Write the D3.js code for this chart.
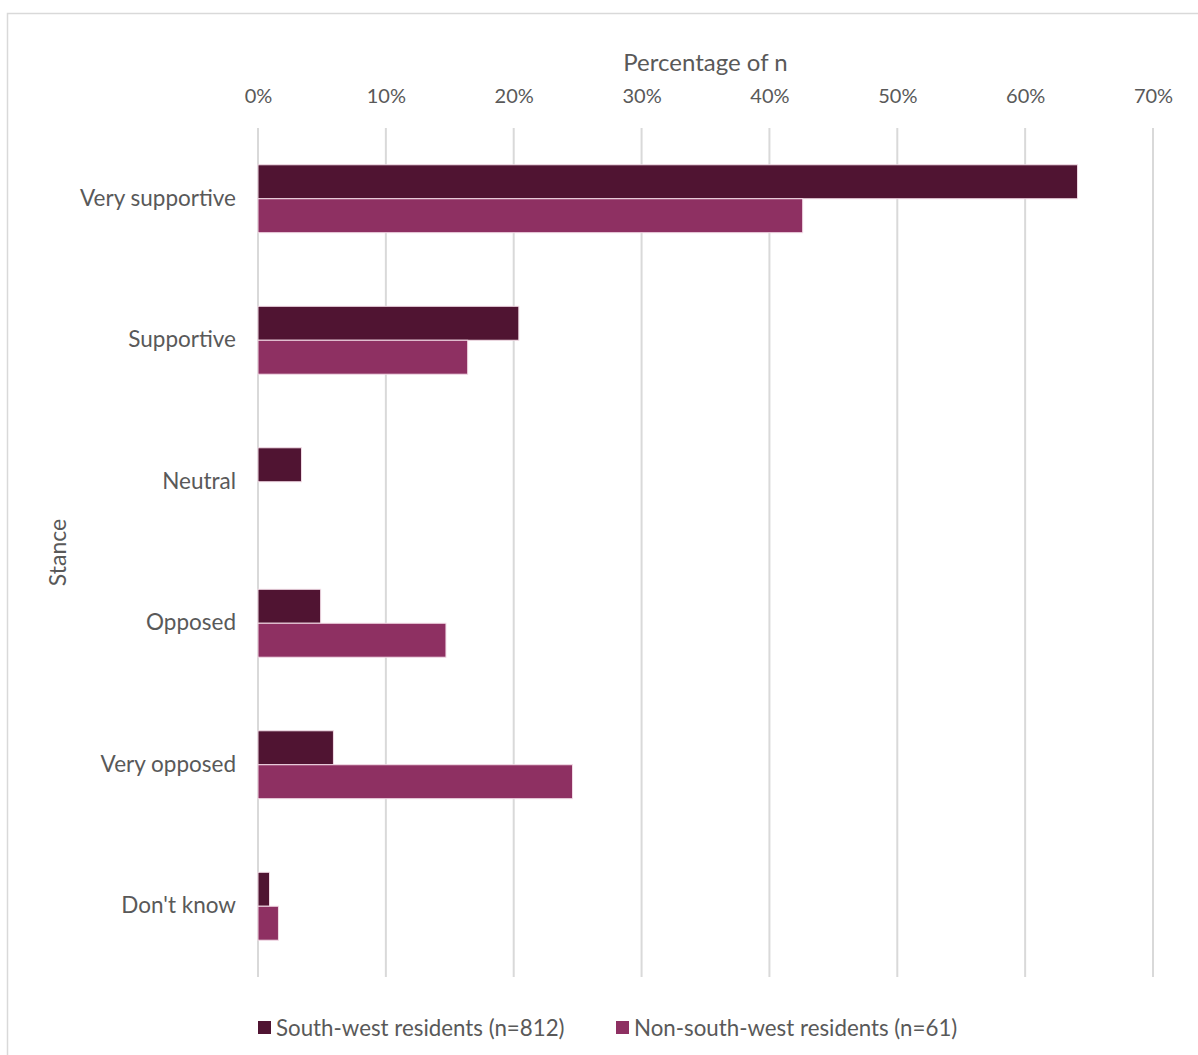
<!DOCTYPE html>
<html>
<head>
<meta charset="utf-8">
<script src="https://cdn.jsdelivr.net/npm/d3@7"></script>
<style>
  html, body { margin: 0; padding: 0; background: #fff; }
  svg { display: block; }
  text { font-family: Lato, "Open Sans", sans-serif; fill: #595959; }
</style>
</head>
<body>
<svg id="chart" width="1198" height="1055"></svg>
<script>
const categories = ["Very supportive", "Supportive", "Neutral", "Opposed", "Very opposed", "Don't know"];
const seriesNames = ["South-west residents (n=812)", "Non-south-west residents (n=61)"];
const southWest = [0.641, 0.204, 0.034, 0.049, 0.059, 0.009];
const nonSouthWest = [0.426, 0.164, 0.0, 0.147, 0.246, 0.016];
const tickValues = [0, 0.1, 0.2, 0.3, 0.4, 0.5, 0.6, 0.7];
const colors = ["#501432", "#8e3062"];

const svg = d3.select("#chart");
const W = 1198, H = 1055;
const plotTop = 128, plotBottom = 977;

// outer frame
svg.append("rect").attr("x", 7.5).attr("y", 13.5)
  .attr("width", W).attr("height", H)
  .attr("fill", "none").attr("stroke", "#d9d9d9").attr("stroke-width", 1.5);

const x = d3.scaleLinear().domain([0, 0.7]).range([258, 1153]);
const y = d3.scaleBand().domain(categories).range([plotTop, plotBottom]).paddingInner(0.52).paddingOuter(0.26);
const y1 = d3.scaleBand().domain([0, 1]).range([0, y.bandwidth()]);

// gridlines
svg.append("g").selectAll("line").data(tickValues).join("line")
  .attr("x1", d => x(d)).attr("x2", d => x(d))
  .attr("y1", plotTop).attr("y2", plotBottom)
  .attr("stroke", "#d9d9d9").attr("stroke-width", 2);

// top axis
const axis = d3.axisTop(x).tickValues(tickValues).tickFormat(d3.format(".0%")).tickSize(0);
const ax = svg.append("g").attr("transform", `translate(0, 106)`).call(axis);
ax.select(".domain").remove();
ax.selectAll("text").style("font-size", "20px").attr("fill", "#595959").attr("dy", 0)
  .style("font-family", "Lato, sans-serif");

// axis title
svg.append("text").attr("x", (x(0) + x(0.7)) / 2).attr("y", 71)
  .attr("text-anchor", "middle").style("font-size", "24px").text("Percentage of n");

// y title
svg.append("text").attr("transform", `translate(66, ${(plotTop + plotBottom) / 2}) rotate(-90)`)
  .attr("text-anchor", "middle").style("font-size", "23px").text("Stance");

// category labels
const yAxis = d3.axisLeft(y).tickSize(0).tickPadding(22);
const yg = svg.append("g").attr("transform", `translate(258,0)`).call(yAxis);
yg.select(".domain").remove();
yg.selectAll("text").style("font-size", "22.5px").attr("fill", "#595959")
  .style("font-family", "Lato, sans-serif");

// bars
const data = categories.map((c, i) => ({ cat: c, vals: [southWest[i], nonSouthWest[i]] }));
const groups = svg.append("g").selectAll("g").data(data).join("g")
  .attr("transform", d => `translate(0, ${y(d.cat)})`);
groups.selectAll("rect").data(d => d.vals.map((v, k) => ({ v, k }))).join("rect")
  .filter(d => d.v > 0)
  .attr("x", x(0)).attr("y", d => y1(d.k))
  .attr("width", d => x(d.v) - x(0)).attr("height", y1.bandwidth())
  .attr("fill", d => colors[d.k]).attr("stroke", "#f2dbe6").attr("stroke-width", 1);

// legend
const legendItems = [{ x: 258, k: 0 }, { x: 616, k: 1 }];
const lg = svg.append("g").selectAll("g").data(legendItems).join("g")
  .attr("transform", d => `translate(${d.x}, 1021)`);
lg.append("rect").attr("width", 13).attr("height", 13).attr("fill", d => colors[d.k]);
lg.append("text").attr("x", 18).attr("y", 15).style("font-size", "22.3px").text(d => seriesNames[d.k]);
</script>
</body>
</html>
